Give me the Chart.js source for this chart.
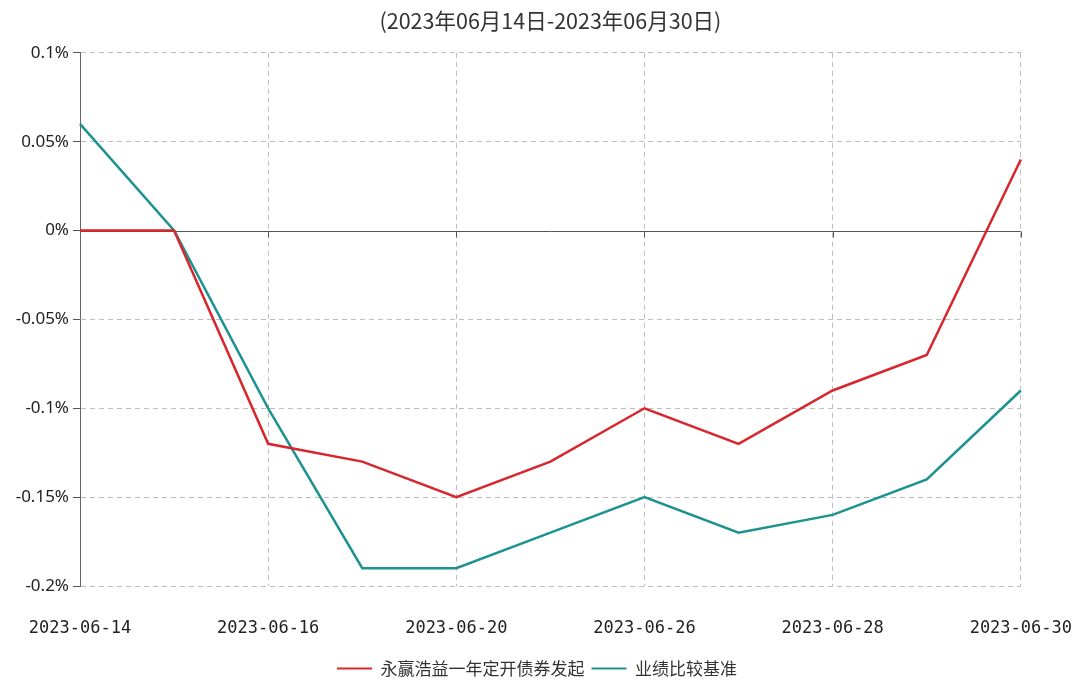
<!DOCTYPE html>
<html>
<head>
<meta charset="utf-8">
<script src="https://cdn.jsdelivr.net/npm/chart.js"></script>
<style>
  html, body { margin: 0; padding: 0; background: #fff; }
  #wrap { width: 1074px; height: 681px; }
</style>
</head>
<body>
<div id="wrap"><canvas id="c" width="1074" height="681"></canvas></div>
<script>
// trading days shown on the x axis
const dates = [
  "2023-06-14", "2023-06-15", "2023-06-16", "2023-06-19", "2023-06-20", "2023-06-21",
  "2023-06-26", "2023-06-27", "2023-06-28", "2023-06-29", "2023-06-30"
];
// cumulative return, in %
const fundReturns = [0, 0, -0.12, -0.13, -0.15, -0.13, -0.10, -0.12, -0.09, -0.07, 0.04];
const benchReturns = [0.06, 0, -0.10, -0.19, -0.19, -0.17, -0.15, -0.17, -0.16, -0.14, -0.09];
const seriesNames = ["永赢浩益一年定开债券发起", "业绩比较基准"];
const titleText = "(2023年06月14日-2023年06月30日)";

const RED = "#d7262c";
const TEAL = "#1d9391";
const GRID = "#bdbdbd";

// solid zero line with little ticks under it, like the original
const zeroLine = {
  id: "zeroLine",
  beforeDatasetsDraw(chart) {
    const { ctx, chartArea, scales } = chart;
    const y = Math.round(scales.y.getPixelForValue(0)) + 0.5;
    ctx.save();
    ctx.strokeStyle = "#555";
    ctx.lineWidth = 1;
    ctx.beginPath();
    ctx.moveTo(chartArea.left, y);
    ctx.lineTo(chartArea.right, y);
    for (let i = 2; i < dates.length; i += 2) {
      const x = Math.round(scales.x.getPixelForValue(i)) + 0.5;
      ctx.moveTo(x, y);
      ctx.lineTo(x, y + 6);
    }
    ctx.stroke();
    ctx.restore();
  }
};

new Chart(document.getElementById("c"), {
  type: "line",
  data: {
    labels: dates,
    datasets: [
      {
        label: seriesNames[0],
        data: fundReturns,
        borderColor: RED,
        backgroundColor: RED,
        borderWidth: 2.5,
        pointRadius: 0,
        tension: 0
      },
      {
        label: seriesNames[1],
        data: benchReturns,
        borderColor: TEAL,
        backgroundColor: TEAL,
        borderWidth: 2.5,
        pointRadius: 0,
        tension: 0
      }
    ]
  },
  options: {
    responsive: false,
    animation: false,
    layout: { padding: { left: 0, right: 0, top: 0, bottom: -6 } },
    plugins: {
      title: {
        display: true,
        fullSize: false,
        text: titleText,
        color: "#333",
        font: { family: "'Noto Sans CJK SC', 'Noto Sans'", size: 21.5, weight: "normal" },
        padding: { top: 8, bottom: 19 }
      },
      legend: {
        position: "bottom",
        labels: {
          boxWidth: 35,
          boxHeight: 2,
          color: "#333",
          padding: 7,
          font: { family: "'Noto Sans CJK SC', 'Noto Sans'", size: 17 },
          generateLabels: (chart) =>
            Chart.defaults.plugins.legend.labels.generateLabels(chart).map((l) => ({ ...l, lineWidth: 0 }))
        }
      },
      tooltip: { enabled: false }
    },
    scales: {
      x: {
        type: "category",
        offset: false,
        border: { display: false, dash: [5, 4] },
        grid: {
          drawTicks: true,
          tickLength: 30,
          tickColor: "transparent",
          color: (ctx) => (ctx.index % 2 === 0 && ctx.index !== 0 ? GRID : "transparent")
        },
        ticks: {
          autoSkip: false,
          maxRotation: 0,
          padding: 2,
          color: "#222",
          font: { family: "'DejaVu Sans Mono'", size: 17 },
          callback: function (v, i) { return i % 2 === 0 ? dates[i] : ""; }
        },
        afterFit: (s) => { s.height = 67; }
      },
      y: {
        min: -0.2,
        max: 0.1,
        border: { display: true, color: "#666", width: 1, dash: [5, 4] },
        grid: {
          color: (ctx) => (ctx.tick && Math.abs(ctx.tick.value) < 1e-9 ? "transparent" : GRID),
          tickColor: "#555",
          tickLength: 7
        },
        ticks: {
          stepSize: 0.05,
          padding: 4,
          color: "#222",
          font: { family: "'Noto Sans'", size: 17 },
          callback: (v) => (+v.toFixed(2)) + "%"
        },
        afterFit: (s) => { s.width = 80; }
      }
    }
  },
  plugins: [zeroLine]
});
</script>
</body>
</html>
